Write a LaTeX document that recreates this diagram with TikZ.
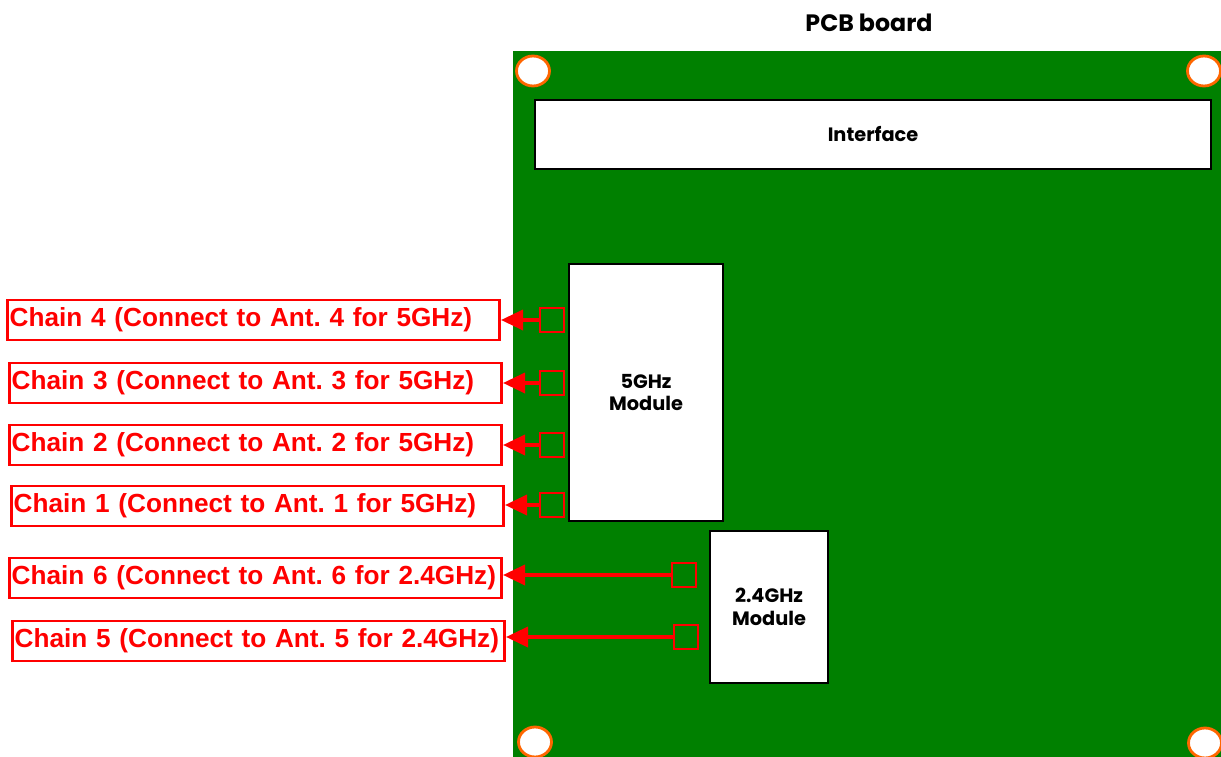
\documentclass[tikz,border=0pt]{standalone}
\usepackage{fontspec}
\setmainfont{Liberation Sans}
\newfontfamily\gothic{Poppins}
\usetikzlibrary{arrows.meta}
\frenchspacing

\definecolor{pcbgreen}{RGB}{0,128,0}
\definecolor{holering}{RGB}{255,102,0}

\tikzset{
  block/.style={draw=black,fill=white,line width=0.9pt,align=center,
    font=\gothic\fontsize{11}{14}\selectfont\bfseries},
  port/.style={draw=red,line width=1.5pt,minimum size=0.48cm,inner sep=0pt},
  chainlabel/.style={draw=red,line width=1.6pt,anchor=east,text=red,
    text width=9.76cm,align=left,inner xsep=0.04cm,minimum height=0.8cm,
    font=\fontsize{14.9}{18}\selectfont\bfseries},
  feed/.style={draw=red,line width=2pt,-{Triangle[length=0.44cm,width=0.4cm]}},
  hole/.style={draw=holering,fill=white,line width=1.6pt}
}

\begin{document}
\begin{tikzpicture}[x=0.02cm,y=-0.02cm]
\useasboundingbox (0,0) rectangle (1221,757);
% board
\fill[pcbgreen] (513,51) rectangle (1221,757);
\node[font=\gothic\fontsize{13.5}{16}\selectfont\bfseries] (title) at (869,23) {PCB board};
% mounting holes
\draw[hole] (533,71) ellipse [x radius=0.33cm,y radius=0.3cm];
\draw[hole] (1204,71) ellipse [x radius=0.33cm,y radius=0.3cm];
\draw[hole] (535,742) ellipse [x radius=0.33cm,y radius=0.3cm];
\draw[hole] (1205,743) ellipse [x radius=0.33cm,y radius=0.3cm];
% blocks
\node[block,minimum width=13.52cm,minimum height=1.38cm] (iface) at (873,134.5) {Interface};
\node[block,minimum width=3.08cm,minimum height=5.14cm] (m5) at (646,392.5) {5GHz\\[-1pt]Module};
\node[block,minimum width=2.36cm,minimum height=3.04cm] (m24) at (769,607) {2.4GHz\\[-1pt]Module};
% RF ports
\node[port] (p4) at (552,320) {};
\node[port] (p3) at (552,383) {};
\node[port] (p2) at (552,445) {};
\node[port] (p1) at (552,505) {};
\node[port] (p6) at (684,575) {};
\node[port] (p5) at (686,637) {};
% antenna chains
\node[chainlabel] (c4) at (501,320) {Chain 4 (Connect to Ant. 4 for 5GHz)};
\node[chainlabel] (c3) at (503,383) {Chain 3 (Connect to Ant. 3 for 5GHz)};
\node[chainlabel] (c2) at (503,445) {Chain 2 (Connect to Ant. 2 for 5GHz)};
\node[chainlabel] (c1) at (505,506) {Chain 1 (Connect to Ant. 1 for 5GHz)};
\node[chainlabel] (c6) at (503,578) {Chain 6 (Connect to Ant. 6 for 2.4GHz)};
\node[chainlabel] (c5) at (506,641) {Chain 5 (Connect to Ant. 5 for 2.4GHz)};
\foreach \i in {1,...,6}
  \draw[feed] (p\i.west) -- (p\i.west -| c\i.east);
\end{tikzpicture}
\end{document}
